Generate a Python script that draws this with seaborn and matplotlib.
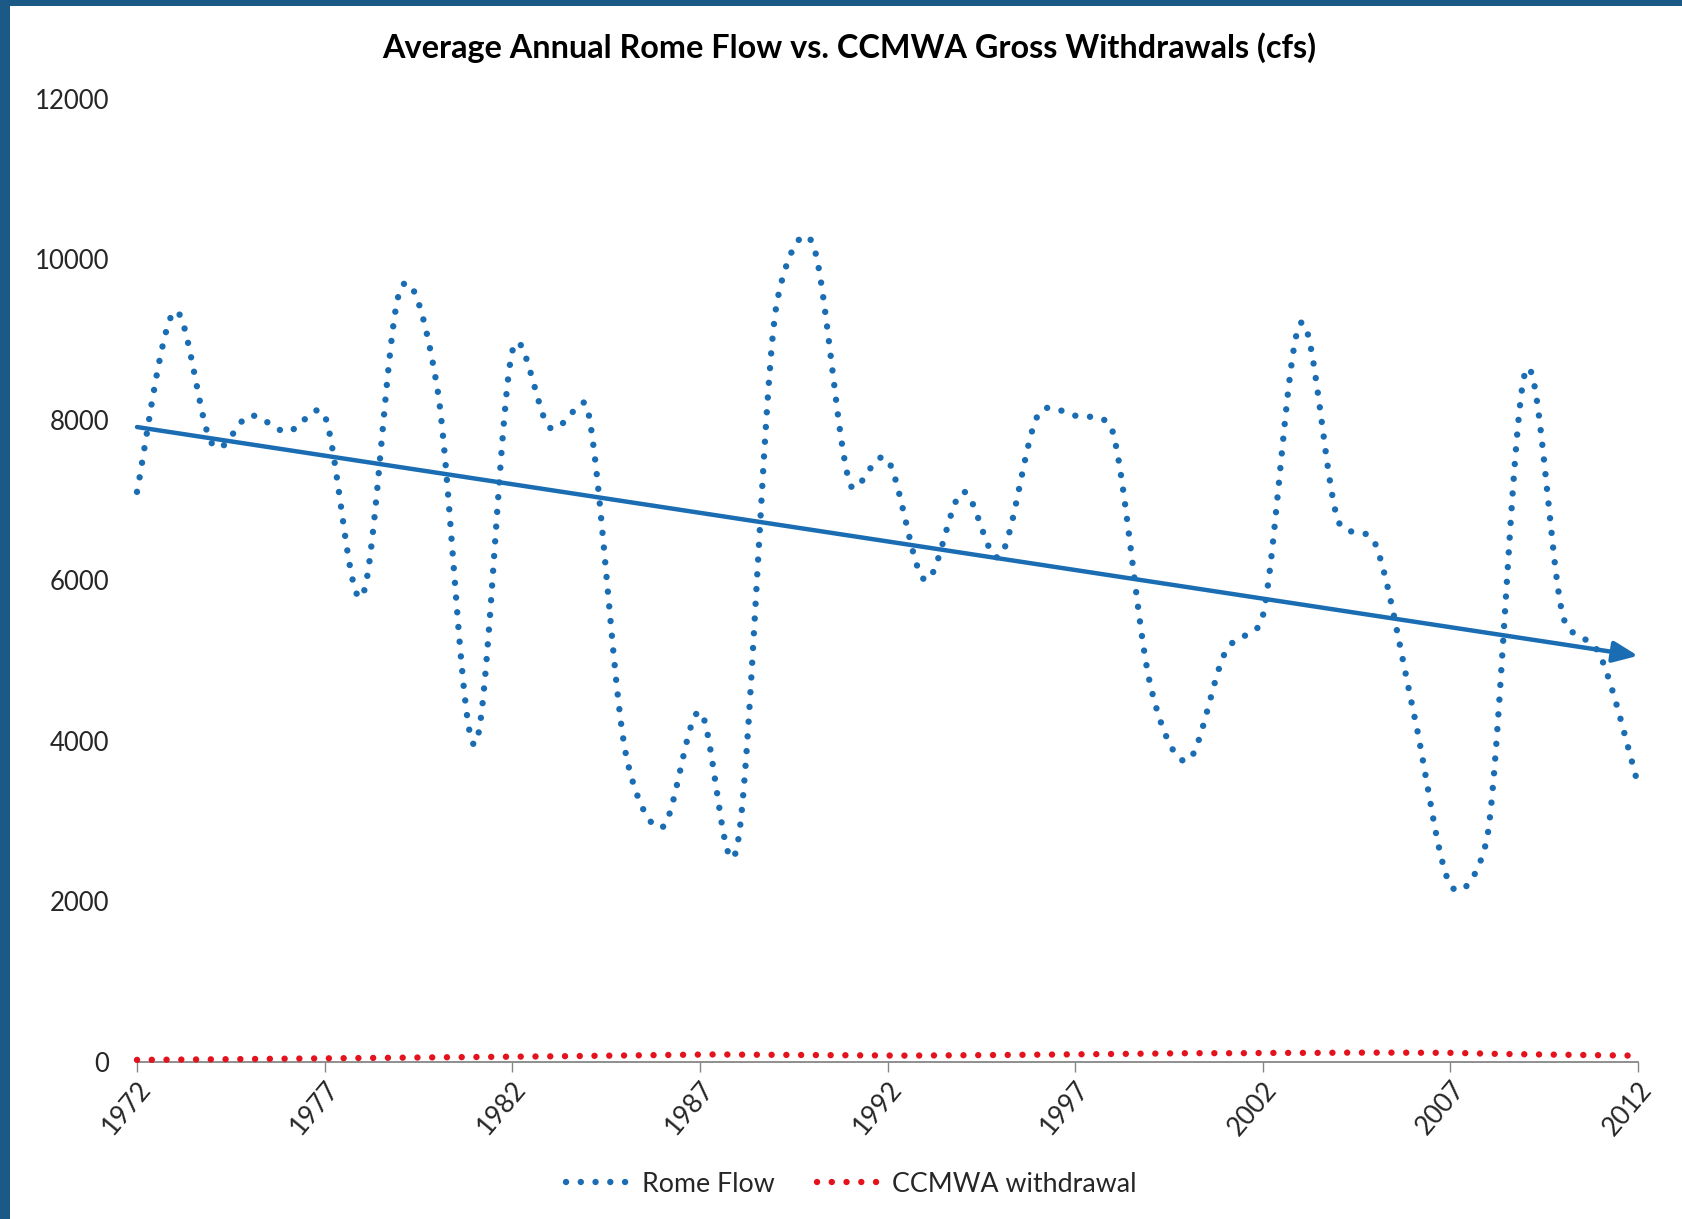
import numpy as np
import pandas as pd
import matplotlib
matplotlib.use("Agg")
import matplotlib.pyplot as plt
import seaborn as sns
from matplotlib.lines import Line2D
from matplotlib.patches import Rectangle

# ---------------- data ----------------
years = list(range(1972, 2013))
rome_flow = [7100, 9350, 7700, 8050, 7850, 8050, 5800, 9600, 8400, 3950,
             8850, 7900, 8150, 3900, 2920, 4360, 2700, 9300, 10200, 7200,
             7500, 6000, 7100, 6300, 8050, 8050, 7850, 4700, 3750, 5100,
             5550, 9200, 6750, 6450, 4400, 2200, 2850, 8600, 5550, 5050,
             3450]
ccmwa_withdrawal = [20, 23, 27, 31, 35, 39, 43, 47, 51, 55,
                    59, 64, 70, 76, 82, 88, 86, 83, 80, 76,
                    73, 75, 78, 81, 85, 89, 94, 99, 104, 102,
                    107, 106, 110, 111, 110, 108, 97, 90, 85, 80,
                    72]
x_ticks = list(range(1972, 2013, 5))
y_ticks = list(range(0, 12001, 2000))
title = "Average Annual Rome Flow vs. CCMWA Gross Withdrawals (cfs)"
series_names = ["Rome Flow", "CCMWA withdrawal"]

BLUE = "#1b6db3"
RED = "#e3121c"
FRAME = "#1b5a86"

# pixel scale of the plot area (used only to shape the smoothed curve)
PX_PER_X = 1501 / 40.0
PX_PER_Y = 962.8 / 12000.0


def smooth_path(x, y, n=30):
    """Excel-style smoothed line: Bezier segments through the data points,
    with control-point distance capped at half the segment length (screen space)."""
    X = np.asarray(x, float) * PX_PER_X
    Y = np.asarray(y, float) * PX_PER_Y
    P = np.column_stack([X, Y])
    N = len(P)
    out = []
    for i in range(N - 1):
        p0 = P[i - 1] if i > 0 else P[i]
        p1 = P[i]
        p2 = P[i + 1]
        p3 = P[i + 2] if i + 2 < N else P[i + 1]
        d12 = np.linalg.norm(p2 - p1)
        d02 = np.linalg.norm(p2 - p0)
        d13 = np.linalg.norm(p3 - p1)
        f = 1 / 6 if d02 / 6 < d12 / 2 else (d12 / (2 * d02) if d02 > 0 else 0)
        g = 1 / 6 if d13 / 6 < d12 / 2 else (d12 / (2 * d13) if d13 > 0 else 0)
        c1 = p1 + (p2 - p0) * f
        c2 = p2 - (p3 - p1) * g
        t = np.linspace(0, 1, n, endpoint=(i == N - 2))[:, None]
        pts = (1 - t) ** 3 * p1 + 3 * (1 - t) ** 2 * t * c1 + 3 * (1 - t) * t ** 2 * c2 + t ** 3 * p2
        out.append(pts)
    pts = np.vstack(out)
    return pd.DataFrame({"x": pts[:, 0] / PX_PER_X, "y": pts[:, 1] / PX_PER_Y})


sns.set_theme(style="white")
plt.rcParams["font.family"] = ["Lato", "DejaVu Sans"]

fig = plt.figure(figsize=(16.83, 12.19), dpi=100)
fig.patch.set_facecolor("white")
ax = fig.add_axes([0.0814, 0.1292, 0.8919, 0.7898])

dot_style = dict(linestyle=(0, (0.01, 2.3)), dash_capstyle="round", linewidth=4.6)

flow_df = smooth_path(years, rome_flow)
wd_df = smooth_path(years, ccmwa_withdrawal)
sns.lineplot(data=flow_df, x="x", y="y", sort=False, estimator=None, ax=ax,
             color=BLUE, clip_on=False, **dot_style)
sns.lineplot(data=wd_df, x="x", y="y", sort=False, estimator=None, ax=ax,
             color=RED, clip_on=False, **dot_style)

# linear trend with arrow
coef = np.polyfit(years, rome_flow, 1)
y0 = np.polyval(coef, years[0])
y1 = np.polyval(coef, years[-1])
ax.annotate("", xy=(years[-1], y1), xytext=(years[0], y0),
            arrowprops=dict(arrowstyle="-|>,head_length=0.75,head_width=0.32",
                            mutation_scale=20, lw=3.2, color=BLUE,
                            shrinkA=0, shrinkB=0),
            annotation_clip=False)

ax.set_xlim(years[0], years[-1])
ax.set_ylim(0, 12000)
ax.set_xticks(x_ticks)
ax.set_xticklabels([str(t) for t in x_ticks], rotation=50, ha="right",
                   rotation_mode="anchor", fontsize=19)
ax.set_yticks(y_ticks)
ax.set_yticklabels([str(t) for t in y_ticks], fontsize=18.5)
ax.set_xlabel("")
ax.set_ylabel("")
for s in ["top", "right", "left"]:
    ax.spines[s].set_visible(False)
ax.spines["bottom"].set_color("#868686")
ax.spines["bottom"].set_linewidth(1.3)
ax.spines["bottom"].set_zorder(0.5)
ax.tick_params(axis="x", direction="out", length=7, width=1.0, color="#868686",
               pad=4, bottom=True)
ax.tick_params(axis="y", length=0, pad=20)
ax.grid(False)

fig.text(0.5045, 0.9606, title, ha="center", va="center", fontsize=23.3,
         fontweight="bold", color="black")

handles = [Line2D([0], [0], color=BLUE, **dot_style),
           Line2D([0], [0], color=RED, **dot_style)]
fig.legend(handles, series_names, loc="center", bbox_to_anchor=(0.506, 0.0287),
           ncol=2, frameon=False, fontsize=19.3, handlelength=2.35,
           handletextpad=0.45, columnspacing=1.6)

# dark frame on left and top edges
fig.patches.append(Rectangle((0, 0), 10 / 1683, 1, transform=fig.transFigure,
                             facecolor=FRAME, edgecolor="none", zorder=10))
fig.patches.append(Rectangle((0, 1 - 6 / 1219), 1, 6 / 1219, transform=fig.transFigure,
                             facecolor=FRAME, edgecolor="none", zorder=10))

fig.savefig("out.png", dpi=100, facecolor="white")
